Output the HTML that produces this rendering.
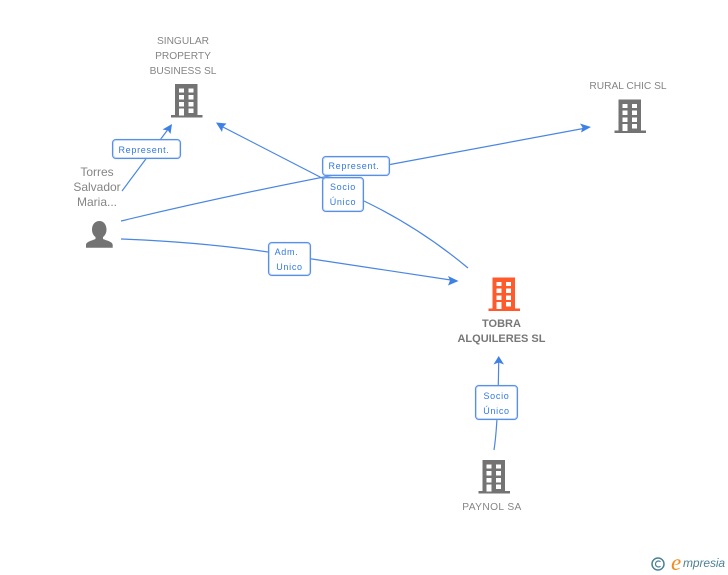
<!DOCTYPE html>
<html><head><meta charset="utf-8">
<style>
html,body{margin:0;padding:0;background:#fff}
#c{position:relative;width:728px;height:575px;overflow:hidden;font-family:"Liberation Sans",sans-serif}
.n{position:absolute;text-align:center;color:#858585;font-size:10.2px;line-height:15px;white-space:nowrap}
.t{font-size:12px}
.b{font-weight:bold;font-size:11px;color:#777}
.l{position:absolute;box-sizing:border-box;border:1px solid #5a90e4;border-radius:4px;background:#fff;color:#3378e2;font-size:9px;letter-spacing:.7px;line-height:15px;text-align:center;white-space:nowrap;box-shadow:inset 0 0 0 1px #c4d9f7,0 0 1px #a9c6f2}
svg{position:absolute;left:0;top:0}
</style></head><body><div id="c">
<svg width="728" height="575" viewBox="0 0 728 575">
<defs>
<g id="bd">
<rect x="4" y="0" width="22.500" height="31"/><rect x="0" y="31" width="31.500" height="2.500"/>
<g fill="#fff">
<rect x="8" y="4.500" width="5" height="4"/><rect x="17.500" y="4.500" width="5" height="4"/>
<rect x="8" y="11" width="5" height="4.500"/><rect x="17.500" y="11" width="5" height="4.500"/>
<rect x="8" y="18" width="5" height="4.500"/><rect x="17.500" y="18" width="5" height="4.500"/>
<rect x="8" y="24.500" width="5" height="7"/><rect x="17.500" y="24.500" width="5" height="4.500"/>
</g></g>
</defs>
<use href="#bd" x="171" y="84" fill="#737373"/>
<use href="#bd" x="614.500" y="99.500" fill="#737373"/>
<use href="#bd" x="488.500" y="277.500" fill="#ff5a2c"/>
<use href="#bd" x="478.500" y="460" fill="#737373"/>
<path d="M99.500 221c-4.500 0-7.500 3.500-7.500 8.500 0 3.500 1.500 6 3.500 7.500v2c-3 1.500-9.500 2.500-9.500 6v2.700h26.700V245c0-3.500-6.500-4.500-9.700-6v-2c2-1.500 3.500-4 3.500-7.500 0-5-3-8.500-7-8.500z" fill="#737373"/>
<g fill="none" stroke="#4a86e2" stroke-width="1.200">
<path d="M122 191L169 128"/>
<path d="M121 221Q250 190 390 164.500L586 128"/>
<path d="M468 268Q420 228 364 201L322 178Q275 154 221 126"/>
<path d="M121 239Q200 242 268 252L312 259L454 280.500"/>
<path d="M494 450Q498 425 498.700 361"/>
</g>
<g fill="#3f80e4">
<path d="M172 124L170.500 134L168 130.500L162.500 129.500z"/>
<path d="M216 122.500L226.500 123.500L223 127L222 132z"/>
<path d="M591 127L581 132.500L582.500 127.500L580 123.500z"/>
<path d="M458.500 281L448 285.500L450 280.500L448 276z"/>
<path d="M498.700 356L504 364.500L498.700 362.500L493.500 364.500z"/>
</g>
<circle cx="658" cy="564" r="6" fill="none" stroke="#4d8296" stroke-width="1.500"/>
<path d="M660.500 561.800a3 3 0 1 0 0 4.400" fill="none" stroke="#4d8296" stroke-width="1.200"/>
</svg>
<div class="n" style="left:133px;top:34px;width:100px">SINGULAR<br>PROPERTY<br>BUSINESS SL</div>
<div class="n" style="left:578px;top:79px;width:100px">RURAL CHIC SL</div>
<div class="n t" style="left:57px;top:165px;width:80px">Torres<br>Salvador<br>Maria...</div>
<div class="n b" style="left:441.500px;top:317px;width:120px">TOBRA<br>ALQUILERES SL</div>
<div class="n" style="left:442px;top:500px;width:100px;letter-spacing:.4px">PAYNOL SA</div>
<div class="l" style="left:112px;top:139px;width:69px;height:20px;line-height:20px;padding-right:5px">Represent.</div>
<div class="l" style="left:322px;top:156px;width:68px;height:20px;line-height:18px;padding-right:4px">Represent.</div>
<div class="l" style="left:322px;top:177px;width:42px;height:35px;padding-top:2px">Socio<br>Único</div>
<div class="l" style="left:268px;top:242px;width:43px;height:34px;padding-top:2px"><span style="position:relative;left:-3px">Adm.</span><br>Unico</div>
<div class="l" style="left:475px;top:385px;width:43px;height:35px;padding-top:3px">Socio<br>Único</div>
<div style="position:absolute;left:671px;top:550px;font:italic 23px 'Liberation Serif',serif;color:#f08a1d">e</div>
<div style="position:absolute;left:683px;top:556px;font:italic 12px 'Liberation Sans',sans-serif;color:#4d8296;letter-spacing:-.1px">mpresia</div>
</div></body></html>
